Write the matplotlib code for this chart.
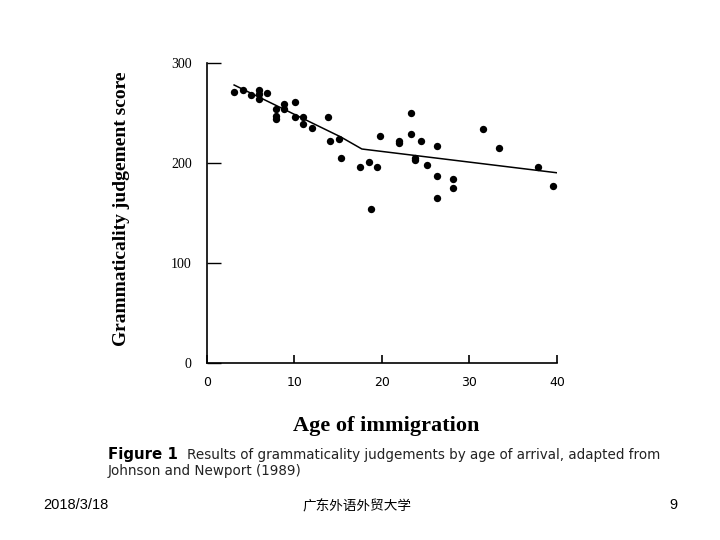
import matplotlib
matplotlib.use("Agg")
import matplotlib.pyplot as plt

# ---- data ----
age = [3.1, 4.1, 5.0, 5.9, 5.9, 5.9, 6.9, 7.9, 7.9, 7.9, 8.8, 8.8, 10.1, 10.1,
       11.0, 11.0, 12.0, 13.8, 14.1, 15.1, 15.3, 17.5, 18.5, 19.4, 18.7, 19.8,
       22.0, 22.0, 23.3, 23.3, 23.8, 23.8, 24.5, 25.1, 26.3, 26.3, 26.3, 28.1,
       28.1, 31.6, 33.4, 37.8, 39.6]
score = [271, 273, 268, 273, 269, 264, 270, 254, 244, 247, 259, 254, 261, 246,
         246, 239, 235, 246, 222, 224, 205, 196, 201, 196, 154, 227,
         222, 220, 250, 229, 205, 203, 222, 198, 217, 187, 165, 184,
         175, 234, 215, 196, 177]
trend_x = [3.1, 15.3, 17.7, 40.2]
trend_y = [278, 226, 214, 190]

x_ticks = [0, 10, 20, 30, 40]
y_ticks = [0, 100, 200, 300]

fig = plt.figure(figsize=(7.2, 5.4), dpi=100)
ax = fig.add_axes([207/720, 1-363/540, 350/720, 300/540])

ax.scatter(age, score, s=28, color="black", zorder=3, linewidths=0)
ax.plot(trend_x, trend_y, color="black", lw=1.1)

ax.set_xlim(0, 40)
ax.set_ylim(0, 300)
for s in ["top", "right"]:
    ax.spines[s].set_visible(False)
for s in ["left", "bottom"]:
    ax.spines[s].set_linewidth(1.2)
ax.set_xticks(x_ticks)
ax.set_yticks(y_ticks)
ax.tick_params(axis="y", direction="in", length=10, width=1.0, pad=11,
               labelsize=10)
ax.tick_params(axis="x", direction="in", length=6, width=1.2, pad=9,
               labelsize=9)
for lab in ax.get_yticklabels():
    lab.set_fontfamily("Liberation Serif")
for lab in ax.get_xticklabels():
    lab.set_fontfamily("DejaVu Sans")

fig.text(121/720, 1-209/540, "Grammaticality judgement score", rotation=90,
         ha="center", va="center", fontsize=14, fontweight="bold",
         family="Liberation Serif")
fig.text(386/720, 1-426/540, "Age of immigration", ha="center", va="center",
         fontsize=16, fontweight="bold", family="Liberation Serif")

fig.text(108/720, 1-455/540, "Figure 1", ha="left", va="center",
         fontsize=10.8, fontweight="bold", family="DejaVu Sans")
fig.text(187/720, 1-455/540,
         "Results of grammaticality judgements by age of arrival, adapted from",
         ha="left", va="center", fontsize=9.75, family="DejaVu Sans",
         color="#222222")
fig.text(108/720, 1-471/540, "Johnson and Newport (1989)", ha="left",
         va="center", fontsize=9.75, family="DejaVu Sans", color="#222222")

fig.text(43/720, 1-505/540, "2018/3/18", ha="left", va="center",
         fontsize=10.5, family="Liberation Sans")
fig.text(357/720, 1-506/540, "广东外语外贸大学", ha="center", va="center",
         fontsize=9.8, family=["Noto Sans CJK SC", "DejaVu Sans"])
fig.text(677/720, 1-505/540, "9", ha="right", va="center",
         fontsize=10.5, family="Liberation Sans")

fig.savefig("out.png", dpi=100)
